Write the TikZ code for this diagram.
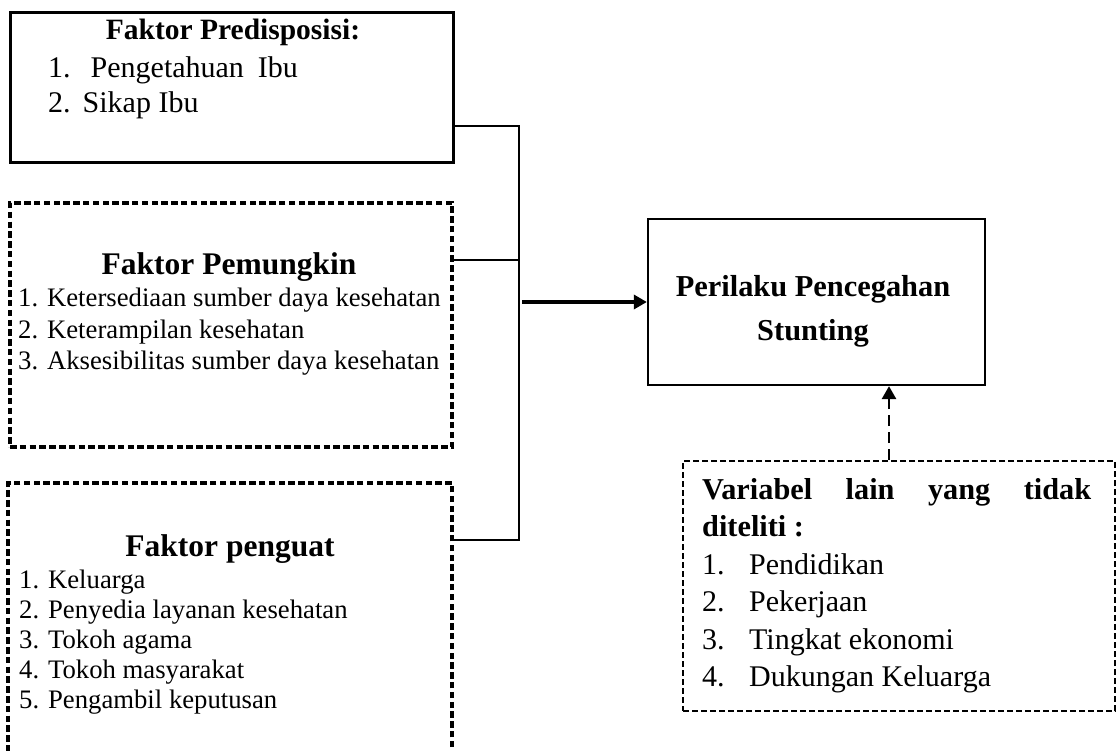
\documentclass[tikz,border=0pt]{standalone}
\usepackage{fontspec}
\setmainfont{Liberation Serif}
\usetikzlibrary{arrows.meta}
\begin{document}
\begin{tikzpicture}[x=1pt,y=-1pt,
  solidbox/.style={draw=black, line width=3pt, rectangle, inner sep=0pt},
  thinbox/.style={draw=black, line width=2.3pt, rectangle, inner sep=0pt},
  dashbox/.style={draw=black, line width=3.3pt, dash pattern=on 6.5pt off 3.3pt, rectangle, inner sep=0pt},
  thindashbox/.style={draw=black, line width=1.8pt, dash pattern=on 6pt off 3pt, rectangle, inner sep=0pt},
  ttl/.style={anchor=base, inner sep=0pt, font=\fontsize{31.5pt}{36pt}\selectfont\bfseries},
  ttlsm/.style={anchor=base, inner sep=0pt, font=\fontsize{29.5pt}{35pt}\selectfont\bfseries},
  itm/.style={anchor=base west, inner sep=0pt, font=\fontsize{26.7pt}{30pt}\selectfont},
  itmbig/.style={anchor=base west, inner sep=0pt, font=\fontsize{30pt}{35pt}\selectfont},
  bigbold/.style={anchor=base west, inner sep=0pt, font=\fontsize{30.3pt}{35pt}\selectfont\bfseries},
  conn/.style={draw=black, line width=2.6pt},
  mainarrow/.style={draw=black, line width=4pt, -{Triangle[length=13pt,width=14pt]}},
  dasharrow/.style={draw=black, line width=2.8pt, dash pattern=on 11pt off 6pt, -{Triangle[length=13pt,width=14pt]}}
]
\useasboundingbox (0,0) rectangle (1116,751);
\fill[white] (0,0) rectangle (1116,751);

% boxes
\node[solidbox, minimum width=443pt, minimum height=150pt] (pre) at (231.5,88) {};
\node[dashbox, minimum width=442pt, minimum height=244pt] (enab) at (231,325) {};
\node[dashbox, minimum width=444pt, minimum height=320pt] (reinf) at (230,643) {};
\node[thinbox, minimum width=337pt, minimum height=166pt] (beh) at (816.5,302) {};
\node[thindashbox, minimum width=432pt, minimum height=250pt] (other) at (899,586) {};

% box 1 text
\node[ttlsm] (preT) at (233,40) {Faktor Predisposisi:};
\node[itmbig] (pre1) at (48,78) {1.\hspace{20pt}Pengetahuan\hspace{14pt}Ibu};
\node[itmbig] (pre2) at (48,113) {2.\hspace{12pt}Sikap Ibu};

% box 2 text
\node[ttl] (enabT) at (229,275) {Faktor Pemungkin};
\node[itm] (enab1) at (18,306.5) {1. Ketersediaan sumber daya kesehatan};
\node[itm] (enab2) at (18,338) {2. Keterampilan kesehatan};
\node[itm] (enab3) at (18,369) {3. Aksesibilitas sumber daya kesehatan};

% box 3 text
\node[ttl] (reinfT) at (230,556) {Faktor penguat};
\node[itm] (reinf1) at (19,588) {1. Keluarga};
\node[itm] (reinf2) at (19,618) {2. Penyedia layanan kesehatan};
\node[itm] (reinf3) at (19,648) {3. Tokoh agama};
\node[itm] (reinf4) at (19,678) {4. Tokoh masyarakat};
\node[itm] (reinf5) at (19,708) {5. Pengambil keputusan};

% box 4 text
\node[ttlsm, font=\fontsize{30.4pt}{35pt}\selectfont\bfseries] (behT1) at (813,297) {Perilaku Pencegahan};
\node[ttlsm, font=\fontsize{30.4pt}{35pt}\selectfont\bfseries] (behT2) at (813,340) {Stunting};

% box 5 text
\node[bigbold] (otherT1) at (702,499) {\makebox[389pt][s]{Variabel lain yang tidak}};
\node[bigbold] (otherT2) at (702,536) {diteliti :};
\node[itmbig] (other1) at (702,574) {\makebox[47pt][l]{1.}Pendidikan};
\node[itmbig] (other2) at (702,611.5) {\makebox[47pt][l]{2.}Pekerjaan};
\node[itmbig] (other3) at (702,649) {\makebox[47pt][l]{3.}Tingkat ekonomi};
\node[itmbig] (other4) at (702,686) {\makebox[47pt][l]{4.}Dukungan Keluarga};

% connectors
\coordinate (jt) at (519,126);
\coordinate (jm) at (519,260);
\coordinate (jb) at (519,540);
\coordinate (as) at (522,302);
\coordinate (dx) at (889,0);
\draw[conn] (pre.east |- jt) -- (jt) -- (jb) -- (reinf.east |- jb);
\draw[conn] (enab.east |- jm) -- (jm);
\draw[mainarrow] (as) -- (beh.west);
\draw[dasharrow] (other.north -| dx) -- (beh.south -| dx);
\end{tikzpicture}
\end{document}
